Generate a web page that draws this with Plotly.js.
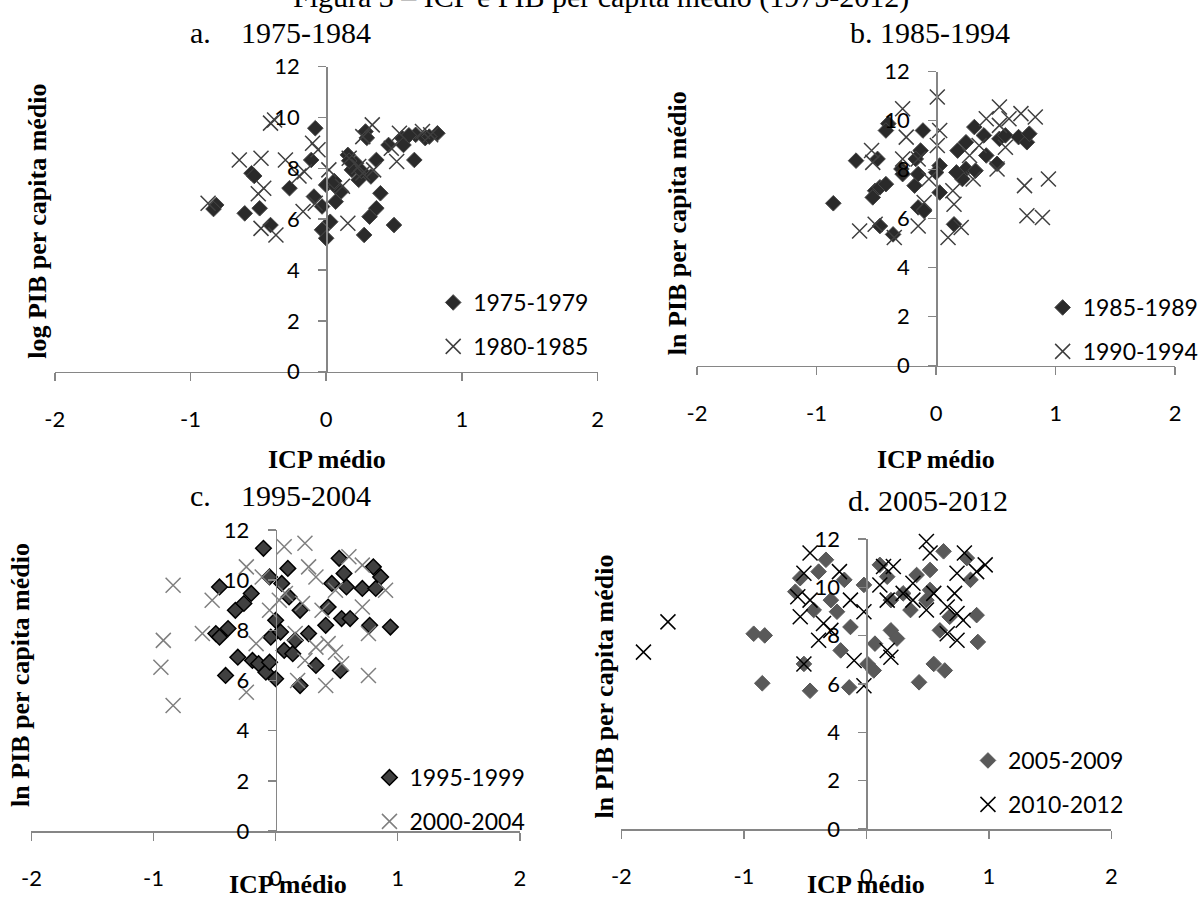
<!DOCTYPE html>
<html>
<head>
<meta charset="utf-8">
<script src="https://cdn.plot.ly/plotly-3.0.1.min.js"></script>
<style>html,body{margin:0;padding:0;background:#fff;}#chart{width:1204px;height:900px;}</style>
</head>
<body>
<div id="chart"></div>
<script>
// ---------- DATA ----------
const xTicks = [-2, -1, 0, 1, 2];
const xTickText = ["-2", "-1", "0", "1", "2"];
const yTicks = [0, 2, 4, 6, 8, 10, 12];

const seriesNames = ["1975-1979", "1980-1985", "1985-1989", "1990-1994", "1995-1999", "2000-2004", "2005-2009", "2010-2012"];
const panelTitles = ["a.", "1975-1984", "b. 1985-1994", "c.", "1995-2004", "d. 2005-2012"];
const yTitles = ["log PIB per capita médio", "ln PIB per capita médio", "ln PIB per capita médio", "ln PIB per capita médio"];
const xTitle = "ICP médio";
const mainTitle = "Figura 3 – ICP e PIB per capita médio (1975-2012)";

// Panel a
const a1_x = [-0.08,-0.81,-0.83,-0.55,-0.53,-0.60,-0.49,-0.41,-0.27,-0.11,-0.09,-0.03,0.00,0.03,-0.03,0.00,0.07,0.11,0.07,0.16,0.22,0.19,0.24,0.29,0.33,0.37,0.40,0.37,0.32,0.28,0.50,0.46,0.56,0.57,0.65,0.66,0.73,0.82,0.76,0.61,0.30,0.17,0.26,0.06];
const a1_y = [9.58,6.56,6.40,7.81,7.70,6.23,6.43,5.77,7.22,8.33,6.89,6.50,7.35,5.90,5.58,5.25,7.28,7.09,6.69,8.53,8.20,7.94,7.55,9.45,7.68,8.33,7.02,6.43,6.10,5.38,5.77,8.92,9.19,8.92,8.33,9.32,9.19,9.38,9.25,9.30,9.20,8.30,7.90,7.50];
const a2_x = [-0.41,-0.38,-0.64,-0.48,-0.87,-0.46,-0.50,-0.48,-0.37,-0.30,-0.16,-0.10,-0.06,-0.17,-0.08,0.02,0.16,0.34,0.27,0.54,0.52,0.35,0.48,0.27,0.77,0.71,0.17,0.24,-0.20,0.12];
const a2_y = [9.78,9.90,8.33,8.40,6.63,7.22,7.00,5.64,5.38,8.33,7.87,8.99,8.73,6.30,6.63,7.94,5.84,9.71,9.25,9.38,8.27,7.94,8.79,7.81,9.32,9.45,8.40,8.07,7.70,7.30];

// Panel b
const b1_x = [-0.40,-0.42,-0.11,-0.67,-0.49,-0.86,-0.51,-0.47,-0.42,-0.53,-0.29,-0.28,-0.18,-0.15,-0.13,-0.17,-0.47,-0.36,-0.15,-0.10,0.03,0.00,0.03,0.15,0.18,0.25,0.32,0.40,0.25,0.22,0.33,0.42,0.51,0.53,0.58,0.69,0.76,0.78,0.17];
const b1_y = [9.88,9.60,9.60,8.37,8.44,6.63,7.14,7.28,7.41,6.87,8.03,7.82,7.35,7.82,8.78,8.44,5.70,5.36,6.46,6.32,8.17,7.89,7.07,5.77,8.78,9.12,9.74,9.40,8.03,7.62,7.96,8.58,8.24,9.26,9.40,9.33,9.12,9.47,7.89];
const b2_x = [0.01,-0.28,-0.25,0.03,-0.54,-0.53,-0.28,-0.64,-0.51,-0.35,-0.15,-0.10,0.01,-0.06,0.10,0.21,0.15,0.42,0.53,0.53,0.61,0.71,0.83,0.58,0.51,0.74,0.94,0.76,0.89,0.36,0.28,-0.15,0.14,0.31];
const b2_y = [10.97,10.49,9.33,9.60,8.78,8.30,8.44,5.50,5.77,5.23,5.70,6.66,8.99,7.62,5.23,5.64,6.59,10.08,10.56,9.81,10.08,10.29,10.15,8.92,8.03,7.35,7.62,6.12,6.05,8.99,8.58,8.44,7.14,7.62];

// Panel c
const c1_x = [-0.10,-0.46,-0.20,-0.05,0.10,0.05,-0.33,-0.26,-0.49,-0.46,-0.39,-0.41,-0.31,-0.19,-0.14,-0.08,0.00,-0.05,-0.04,0.00,0.04,0.07,0.14,0.20,0.16,0.20,0.27,0.33,0.41,0.43,0.46,0.52,0.56,0.58,0.54,0.61,0.53,0.71,0.80,0.86,0.82,0.77,0.94,0.11];
const c1_y = [11.27,9.73,9.47,10.13,10.47,9.87,8.80,9.07,7.87,7.73,8.07,6.20,6.93,6.80,6.67,6.33,6.07,6.73,7.73,8.40,7.93,7.20,7.07,5.80,7.60,8.80,7.87,6.60,8.20,8.93,9.87,10.87,10.27,9.73,8.47,8.47,6.40,9.67,10.53,10.13,9.67,8.20,8.13,9.33];
const c2_x = [-0.84,-0.92,-0.94,-0.84,-0.52,-0.60,-0.24,-0.24,0.07,0.24,-0.11,0.08,0.22,0.27,0.33,0.16,0.33,0.43,0.49,0.24,0.18,0.41,0.54,0.76,0.60,0.71,0.90,0.71,0.76,0.49,-0.05,-0.16,0.38,0.03];
const c2_y = [9.80,7.60,6.53,5.00,9.20,7.87,10.53,5.53,11.33,11.47,10.13,9.47,9.07,10.53,10.13,7.87,7.33,7.47,7.13,6.80,6.00,5.80,6.67,6.20,10.93,10.60,9.60,8.93,7.87,9.60,8.80,7.47,8.80,9.20];

// Panel d
const d1_x = [-0.92,-0.83,-0.85,-0.46,-0.51,-0.33,-0.39,-0.54,-0.58,-0.18,-0.29,-0.24,-0.13,-0.21,-0.14,-0.02,0.11,0.17,0.20,0.07,0.01,0.06,0.20,0.25,0.36,0.41,0.52,0.63,0.43,0.55,0.64,0.68,0.60,0.90,0.91,0.82,0.85,0.49,0.52,0.30,-0.43];
const d1_y = [8.08,8.01,6.03,5.72,6.83,11.14,10.65,10.38,9.82,10.31,9.47,8.99,8.36,7.39,5.86,10.10,10.93,10.44,9.47,7.67,6.83,6.56,8.22,7.88,9.06,10.51,10.72,11.49,6.07,6.83,6.56,8.78,8.22,8.85,7.74,11.21,10.31,9.47,9.89,9.75,9.06];
const d2_x = [-1.82,-1.62,-0.46,-0.51,-0.22,-0.56,-0.46,-0.54,-0.39,-0.51,-0.02,-0.10,-0.13,0.14,0.22,0.11,0.17,-0.02,0.17,0.20,0.41,0.49,0.52,0.38,0.55,0.49,0.38,0.74,0.80,0.97,0.90,0.72,0.74,0.79,0.66,0.74,0.66,0.30,-0.35,-0.29];
const d2_y = [7.32,8.57,11.42,10.58,10.65,9.61,9.47,8.78,7.81,6.83,5.93,6.97,9.47,10.86,10.86,10.10,9.47,8.99,7.39,7.11,12.11,11.90,11.42,10.17,9.75,9.06,9.47,10.58,11.42,10.93,10.65,9.75,8.92,8.64,8.08,7.81,9.19,9.75,8.50,8.22];

// ---------- LAYOUT HELPERS ----------
const W = 1204, H = 900;
const px = v => v / W;
const py = v => 1 - v / H;

const AXC = '#868686';
const tickFont = {family: 'Lato, "Open Sans", sans-serif', size: 22, color: '#000'};
const serif = '"Liberation Serif", "Times New Roman", serif';

// panel geometry in pixels: x of -2, x of 2, y of 0, y of 12
const panels = [
  {x0: 55, x1: 600, y0: 371.7, y1: 66.7},
  {x0: 700, x1: 1180, y0: 365.7, y1: 71.7},
  {x0: 31.6, x1: 522, y0: 831, y1: 530},
  {x0: 624, x1: 1116, y0: 829, y1: 539}
];

const layout = {
  width: W, height: H,
  margin: {l: 0, r: 0, t: 0, b: 0},
  paper_bgcolor: '#fff', plot_bgcolor: 'rgba(0,0,0,0)',
  showlegend: true,
  annotations: [],
  font: {family: 'Lato, sans-serif', color: '#000'}
};

panels.forEach((p, i) => {
  const k = i === 0 ? '' : String(i + 1);
  layout['xaxis' + k] = {
    domain: [px(p.x0), px(p.x1)], range: [-2, 2], tickvals: xTicks, ticktext: xTickText,
    anchor: 'y' + k, showline: true, linecolor: AXC, linewidth: 1.5,
    ticks: 'outside', ticklen: 8, tickcolor: AXC, tickwidth: 1.5,
    showgrid: false, zeroline: false, tickfont: tickFont, ticklabelstandoff: 19,
    fixedrange: true
  };
  layout['yaxis' + k] = {
    domain: [py(p.y0), py(p.y1)], range: [0, 12], tickvals: yTicks,
    anchor: 'free', position: px((p.x0 + p.x1) / 2), showline: true, linecolor: AXC, linewidth: 1.5,
    ticks: 'outside', ticklen: 8, tickcolor: AXC, tickwidth: 1.5,
    showgrid: false, zeroline: false, tickfont: tickFont, ticklabelstandoff: 14,
    fixedrange: true
  };
});

// titles
const ann = (text, x, y, opts) => Object.assign({text: text, x: px(x), y: py(y), xref: 'paper', yref: 'paper', showarrow: false, xanchor: 'center', yanchor: 'middle'}, opts || {});
const titleFont = {family: serif, size: 30, color: '#000'};
const boldFont = {family: serif, size: 26, color: '#000', weight: 'bold'};

layout.annotations.push(ann(mainTitle, 604, -3, {font: titleFont}));
layout.annotations.push(ann(panelTitles[0], 189, 32, {font: titleFont, xanchor: 'left'}));
layout.annotations.push(ann(panelTitles[1], 240, 32, {font: titleFont, xanchor: 'left'}));
layout.annotations.push(ann(panelTitles[2], 852, 33, {font: titleFont, xanchor: 'left'}));
layout.annotations.push(ann(panelTitles[3], 189, 495, {font: titleFont, xanchor: 'left'}));
layout.annotations.push(ann(panelTitles[4], 240, 495, {font: titleFont, xanchor: 'left'}));
layout.annotations.push(ann(panelTitles[5], 850, 500, {font: titleFont, xanchor: 'left'}));

const yTitlePos = [[38, 221], [680, 223], [20, 675], [607, 686]];
yTitles.forEach((t, i) => layout.annotations.push(ann('<b>' + t + '</b>', yTitlePos[i][0], yTitlePos[i][1], {font: boldFont, textangle: -90})));
const xTitlePos = [[328, 460], [940, 460], [289, 884], [870, 884]];
xTitlePos.forEach(p => layout.annotations.push(ann('<b>' + xTitle + '</b>', p[0], p[1], {font: boldFont})));

// legends
const legPos = [[435, 281], [1047, 286], [371, 756], [972, 739]];
legPos.forEach((p, i) => {
  const k = i === 0 ? 'legend' : 'legend' + (i + 1);
  layout[k] = {x: px(p[0]), y: py(p[1]), xanchor: 'left', yanchor: 'top', bgcolor: 'rgba(0,0,0,0)',
    font: {family: 'Lato, sans-serif', size: 23, color: '#000'}, tracegroupgap: 11, itemwidth: 30, traceorder: 'grouped'};
});

// ---------- TRACES ----------
const diamond = (x, y, name, ax, leg, fill, line, lw) => ({
  type: 'scatter', mode: 'markers', x: x, y: y, name: name, xaxis: 'x' + ax, yaxis: 'y' + ax,
  legend: leg, legendgroup: name, cliponaxis: false, hoverinfo: 'skip',
  marker: {symbol: 'diamond', size: 12, color: fill, line: {color: line, width: lw}}
});
const cross = (x, y, name, ax, leg, col) => ({
  type: 'scatter', mode: 'markers', x: x, y: y, name: name, xaxis: 'x' + ax, yaxis: 'y' + ax,
  legend: leg, legendgroup: name, cliponaxis: false, hoverinfo: 'skip',
  marker: {symbol: 'x-thin-open', size: 15, color: col, line: {color: col, width: 1.5}}
});

const data = [
  diamond(a1_x, a1_y, seriesNames[0], '', 'legend', '#2a2a2a', '#474747', 1),
  cross(a2_x, a2_y, seriesNames[1], '', 'legend', '#3f3f3f'),
  diamond(b1_x, b1_y, seriesNames[2], '2', 'legend2', '#2a2a2a', '#474747', 1),
  cross(b2_x, b2_y, seriesNames[3], '2', 'legend2', '#3f3f3f'),
  diamond(c1_x, c1_y, seriesNames[4], '3', 'legend3', '#404040', '#000000', 1.5),
  cross(c2_x, c2_y, seriesNames[5], '3', 'legend3', '#7f7f7f'),
  diamond(d1_x, d1_y, seriesNames[6], '4', 'legend4', '#595959', '#595959', 1),
  cross(d2_x, d2_y, seriesNames[7], '4', 'legend4', '#000000')
];

Plotly.newPlot('chart', data, layout, {staticPlot: true, displayModeBar: false});
</script>
</body>
</html>
